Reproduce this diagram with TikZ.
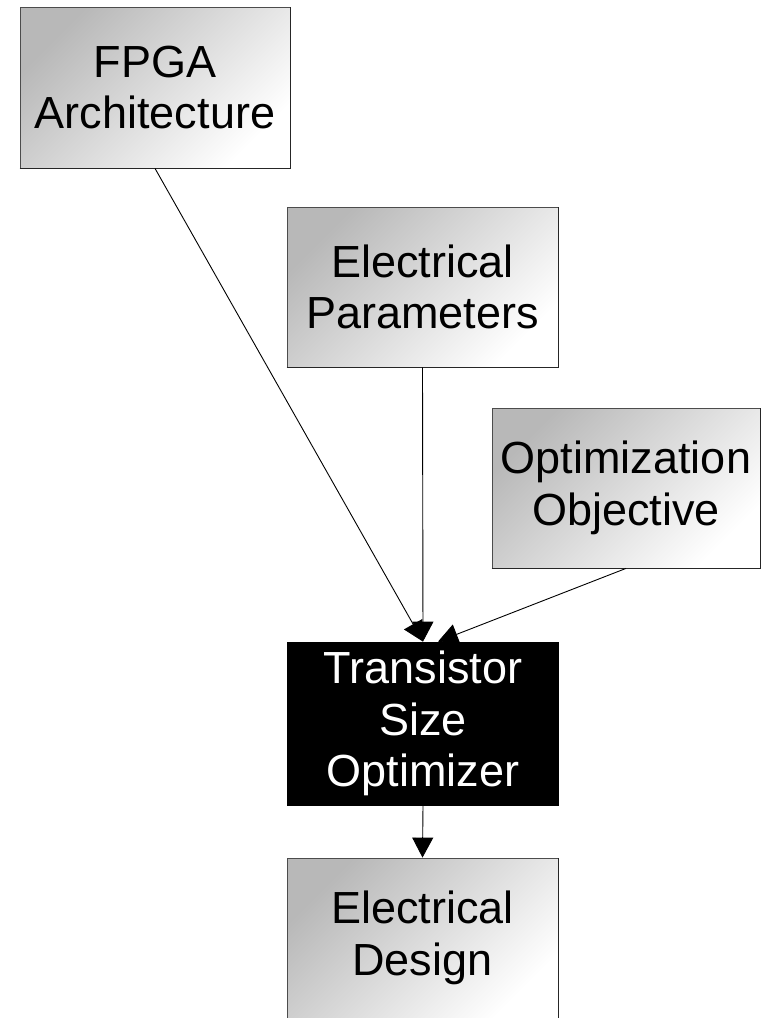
\documentclass[tikz,border=0pt]{standalone}
\usepackage{fontspec}
\setmainfont{Liberation Sans}
\usetikzlibrary{arrows.meta,calc}
\begin{document}
\begin{tikzpicture}[x=1pt,y=-1pt,
  box/.style={draw=black!70, line width=0.8pt, shade, top color=black!28, bottom color=white,
    shading angle=45, align=center, inner sep=0pt,
    minimum width=271pt, minimum height=160pt,
    font=\fontsize{45}{51.5}\selectfont},
  blackbox/.style={box, fill=black, shade=none, draw=black, text=white, minimum height=163pt},
  rim/.style={draw=black!85, line width=1.8pt},
  link/.style={draw=black, line width=0.9pt, -{Triangle[length=20pt,width=21pt]}}]
  \useasboundingbox (0,0) rectangle (763,1018);
  \clip (0,0) rectangle (763,1017.5);

  \node[box, minimum width=270pt, minimum height=161pt] (fpga) at (155,87.5) {FPGA\\Architecture};
  \node[box] (param) at (422.5,287) {Electrical\\Parameters};
  \node[box, minimum width=268pt] (obj) at (626,488) {Optimization\\Objective};
  \node[blackbox, fill=black] (tso) at (423,723.5) {Transistor\\Size\\Optimizer};
  \node[box] (design) at (422.5,938) {Electrical\\Design};

  % darker lower and right rims of the grey boxes
  \foreach \b in {fpga,param,obj,design}
    \draw[rim] (\b.south west) -- (\b.south east) -- (\b.north east);

  \coordinate (tsoin) at ($(tso.north)+(15,0)$);

  \draw[link] (fpga.south) -- (tso.north);
  \draw[link] (param.south) -- (tso.north);
  \draw[link] (obj.south) -- (tsoin);
  \draw[link] (tso.south) -- (design.north);
\end{tikzpicture}
\end{document}
